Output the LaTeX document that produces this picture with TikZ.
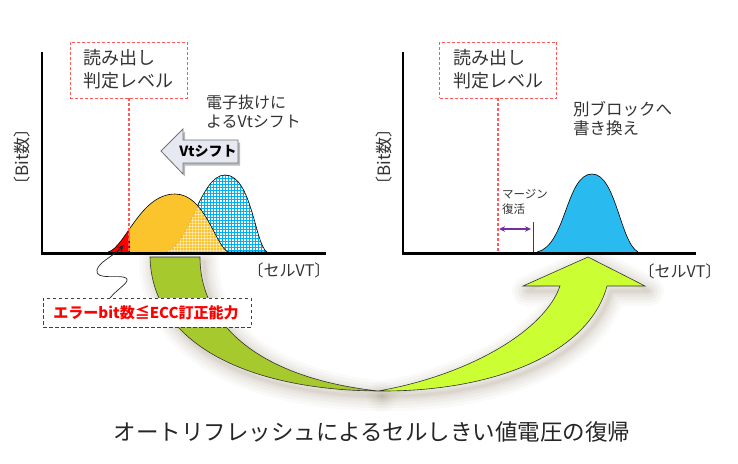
\documentclass[tikz,border=0pt]{standalone}
\usepackage{fontspec}
\setmainfont{Noto Sans CJK JP}
\usetikzlibrary{patterns,arrows.meta}
\definecolor{txt}{HTML}{333333}
\definecolor{yel}{HTML}{FCC42C}
\definecolor{gridblue}{HTML}{00B0F0}
\definecolor{bluefill}{HTML}{29BBF0}
\definecolor{dashred}{HTML}{FF5A5A}
\definecolor{leafgreen}{HTML}{A6C92E}
\definecolor{lime}{HTML}{CCFF33}
\definecolor{vtfill}{HTML}{E6E9F2}
\definecolor{purp}{HTML}{7030A0}
\definecolor{shad}{HTML}{8A7A5A}
\tikzset{
  axis/.style={line width=2.6pt, black},
  readbox/.style={draw=dashred, dash pattern=on 3pt off 2pt, line width=0.8pt, fill=white,
    minimum width=117pt, minimum height=56pt, inner sep=0pt},
  readline/.style={draw=dashred, dash pattern=on 3pt off 2pt, line width=1.1pt},
  lbl/.style={text=txt, inner sep=0pt},
  errbox/.style={draw=black!75, dash pattern=on 3.5pt off 2.5pt, line width=0.8pt, fill=white,
    minimum width=208pt, minimum height=29pt, inner sep=0pt},
  curveline/.style={draw=black, line width=0.6pt},
}
\begin{document}
\begin{tikzpicture}[x=1pt,y=-1pt]
\useasboundingbox (0,0) rectangle (738,463);
\fill[white] (0,0) rectangle (738,463);

% ---------- green curved arrow: shadow ----------
\def\leftband{(150,257) .. controls (152,345) and (250,390) .. (378,391) .. controls (260,378) and (200,325) .. (200,257) -- cycle}
\def\rightband{(378,391) .. controls (470,375) and (545,330) .. (560,286) -- (523,286) -- (588,257) -- (645,286) -- (607,286) .. controls (590,350) and (500,392) .. (378,391) -- cycle}
\begin{scope}[shift={(4,5)}]
\foreach \w/\o in {30/0.035,24/0.04,18/0.05,12/0.06,7/0.07,3/0.08}{
  \draw[shad, line width=\w pt, opacity=\o, line join=round] \leftband;
  \draw[shad, line width=\w pt, opacity=\o, line join=round] \rightband;
}
\end{scope}
\fill[leafgreen] \leftband;
\draw[black!80, line width=0.6pt] \leftband;
\fill[lime] \rightband;
\draw[black!80, line width=0.6pt, line join=miter] \rightband;

% ---------- left chart ----------
\def\bluepath{(165,252) .. controls (190,245) and (200,175) .. (225,175) .. controls (252,175) and (255,245) .. (267,252) -- cycle}
\def\yelpath{(108,252) .. controls (125,248) and (140,194) .. (175,194) .. controls (205,194) and (215,245) .. (228,252) -- cycle}
\fill[white] \bluepath;
\fill[pattern=grid, pattern color=gridblue] \bluepath;
\draw[curveline] \bluepath;
\fill[yel] \yelpath;
\begin{scope}
  \clip \bluepath;
  \fill[pattern=grid, pattern color=white, opacity=0.45] \yelpath;
  \draw[orange!70!black, opacity=0.35, line width=0.6pt] (165,252) .. controls (190,245) and (200,175) .. (225,175);
\end{scope}
\begin{scope}
  \clip (100,150) rectangle (129,253);
  \fill[red] \yelpath;
\end{scope}
\draw[curveline] (108,252) .. controls (125,248) and (140,194) .. (175,194) .. controls (205,194) and (215,245) .. (228,252);
\draw[black, line width=0.8pt] (129,238) -- (129,252);

\draw[axis] (42,52) -- (42,253.3) -- (326,253.3);

\node[readbox] (rb1) at (128.5,70) {};
\node[lbl, align=left, font=\fontsize{18}{23}\selectfont] (rb1t) at (128.5,69) {読み出し\\判定レベル};
\draw[readline] (rb1.south -| 129,0) -- (129,251);

\node[lbl, align=left, anchor=west, font=\fontsize{16}{19}\selectfont] (shiftlbl) at (206,112) {電子抜けに\\よるVtシフト};

% Vt shift arrow
\def\vtpath{(161,151) -- (183,129) -- (183,140) -- (238,140) -- (238,163) -- (183,163) -- (183,174) -- cycle}
\fill[black!45, opacity=0.6, shift={(2,2.5)}] \vtpath;
\fill[vtfill] \vtpath;
\draw[black!55, line width=0.8pt, line join=miter] \vtpath;
\node[inner sep=0pt, font=\fontsize{14}{14}\selectfont\bfseries] (vt) at (208,151) {Vtシフト};

\node[lbl, rotate=90, font=\fontsize{17}{17}\selectfont] (ylab1) at (22,157) {〔Bit数〕};
\node[lbl, font=\fontsize{16}{16}\selectfont] (xlab1) at (289,270) {〔セルVT〕};

% error box and squiggle
\node[errbox] (eb) at (147,312.5) {};
\node[inner sep=0pt, text=red, font=\fontsize{15}{15}\selectfont\bfseries] (ebt) at (146,312.5) {エラーbit数≦ECC訂正能力};
\coordinate (sqs) at (110,298);
\coordinate (sqe) at (124,245);
\draw[black!85, line width=0.7pt, -{Stealth[length=7pt,width=6pt]}] (sqs) .. controls (118,288) and (131,282) .. (126,278) .. controls (120,274) and (95,281) .. (97,270) .. controls (99,262) and (112,257) .. (sqe);

% ---------- right chart ----------
\def\bluepathR{(537,252) .. controls (566,246) and (566,174) .. (592,174) .. controls (616,174) and (620,242) .. (638,252) -- cycle}
\fill[bluefill] \bluepathR;
\draw[curveline] (537,252) .. controls (566,246) and (566,174) .. (592,174) .. controls (616,174) and (620,242) .. (638,252);

\draw[axis] (403,52) -- (403,253.3) -- (696,253.3);
\node[readbox] (rb2) at (498,70) {};
\node[lbl, align=left, font=\fontsize{18}{23}\selectfont] (rb2t) at (498,69) {読み出し\\判定レベル};
\draw[readline] (rb2.south -| 498,0) -- (498,251);

\node[lbl, align=left, anchor=west, font=\fontsize{16.5}{19}\selectfont] (rewr) at (573,119) {別ブロックへ\\書き換え};

\coordinate (mtop) at (533,222);
\coordinate (mbot) at (533,252);
\draw[black!75, line width=0.8pt] (mtop) -- (mbot);
\coordinate (ma) at (499,229);
\coordinate (mb) at (531,229);
\draw[purp, line width=1.3pt, {Stealth[length=6pt,width=5.5pt]}-{Stealth[length=6pt,width=5.5pt]}] (ma) -- (mb);
\node[lbl, align=left, anchor=west, font=\fontsize{11.5}{15}\selectfont] (margin) at (502,202) {マージン\\復活};

\node[lbl, rotate=90, font=\fontsize{17}{17}\selectfont] (ylab2) at (384,157) {〔Bit数〕};
\node[lbl, font=\fontsize{16}{16}\selectfont] (xlab2) at (680,271) {〔セルVT〕};

% ---------- title ----------
\node[lbl, text=black!85, font=\fontsize{22.5}{22.5}\selectfont] (title) at (372,432) {オートリフレッシュによるセルしきい値電圧の復帰};
\end{tikzpicture}
\end{document}
